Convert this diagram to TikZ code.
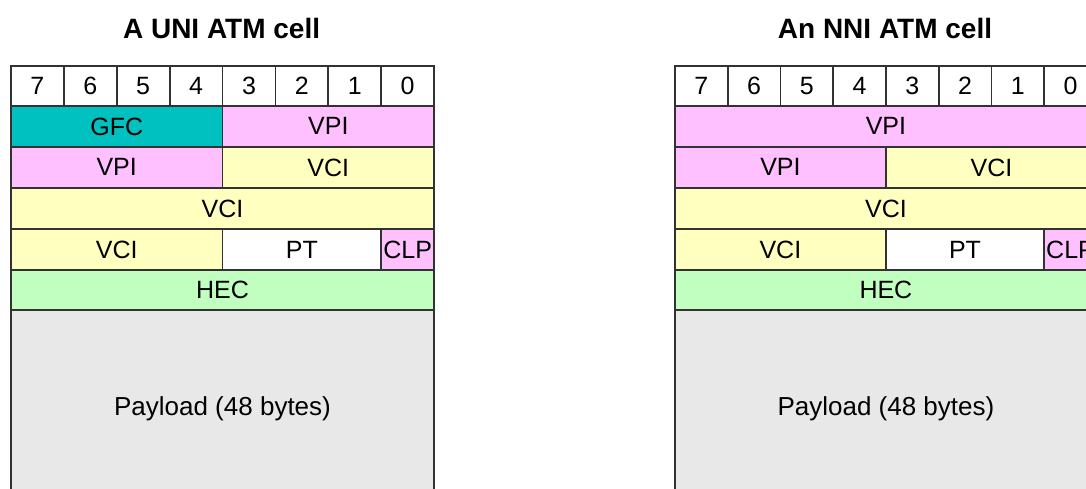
\documentclass[tikz,border=0pt]{standalone}
\usepackage{fontspec}
\setmainfont{Liberation Sans}
\definecolor{linegray}{RGB}{50,50,50}
\definecolor{gfcteal}{RGB}{0,192,192}
\definecolor{vpipink}{RGB}{255,192,255}
\definecolor{vciyellow}{RGB}{255,255,192}
\definecolor{hecgreen}{RGB}{192,255,192}
\definecolor{paygray}{RGB}{232,232,232}
\newcommand\fld[9]{%
  \pgfmathsetmacro\fx{#2+#4*#3}%
  \pgfmathsetmacro\fw{#5*#3}%
  \node[field, fill=#8, minimum width=\fw pt, minimum height=#7pt] (#1) at (\fx,#6) {#9};}
\begin{document}
\begin{tikzpicture}[x=1pt,y=-1pt,
  field/.style={draw=linegray, line width=1.8pt, rectangle, inner sep=0pt,
    anchor=north west, font=\fontsize{25}{25}\selectfont, text=black},
  ttl/.style={font=\bfseries\fontsize{28}{28}\selectfont, text=black, inner sep=0pt}]
\useasboundingbox (0,0) rectangle (1086,489);
\clip (0,0) rectangle (1086,489);
\fill[white] (0,0) rectangle (1086,489);
% ---------- UNI ----------
\node[ttl] (uniT) at (221.6,28) {A UNI ATM cell};
\foreach \i/\b in {0/7,1/6,2/5,3/4,4/3,5/2,6/1,7/0}{
  \fld{ub\b}{10}{52.9}{\i}{1}{65}{40}{white}{\b}
}
\fld{ugfc}{10}{52.9}{0}{4}{105}{41}{gfcteal}{GFC}
\fld{uvpiA}{10}{52.9}{4}{4}{105}{41}{vpipink}{VPI}
\fld{uvpiB}{10}{52.9}{0}{4}{146}{41}{vpipink}{VPI}
\fld{uvciA}{10}{52.9}{4}{4}{146}{41}{vciyellow}{VCI}
\fld{uvciB}{10}{52.9}{0}{8}{187}{41}{vciyellow}{VCI}
\fld{uvciC}{10}{52.9}{0}{4}{228}{41}{vciyellow}{VCI}
\fld{upt}{10}{52.9}{4}{3}{228}{41}{white}{PT}
\fld{uclp}{10}{52.9}{7}{1}{228}{41}{vpipink}{CLP}
\fld{uhec}{10}{52.9}{0}{8}{269}{40}{hecgreen}{HEC}
\fld{upay}{10}{52.9}{0}{8}{309}{197}{paygray}{\fontsize{26}{26}\selectfont Payload (48 bytes)}
% ---------- NNI ----------
\node[ttl] (nniT) at (885,28) {An NNI ATM cell};
\foreach \i/\b in {0/7,1/6,2/5,3/4,4/3,5/2,6/1,7/0}{
  \fld{nb\b}{674}{52.75}{\i}{1}{65}{40}{white}{\b}
}
\fld{nvpiA}{674}{52.75}{0}{8}{105}{41}{vpipink}{VPI}
\fld{nvpiB}{674}{52.75}{0}{4}{146}{41}{vpipink}{VPI}
\fld{nvciA}{674}{52.75}{4}{4}{146}{41}{vciyellow}{VCI}
\fld{nvciB}{674}{52.75}{0}{8}{187}{41}{vciyellow}{VCI}
\fld{nvciC}{674}{52.75}{0}{4}{228}{41}{vciyellow}{VCI}
\fld{npt}{674}{52.75}{4}{3}{228}{41}{white}{PT}
\fld{nclp}{674}{52.75}{7}{1}{228}{41}{vpipink}{CLP}
\fld{nhec}{674}{52.75}{0}{8}{269}{40}{hecgreen}{HEC}
\fld{npay}{674}{52.75}{0}{8}{309}{197}{paygray}{\fontsize{26}{26}\selectfont Payload (48 bytes)}
\end{tikzpicture}
\end{document}
